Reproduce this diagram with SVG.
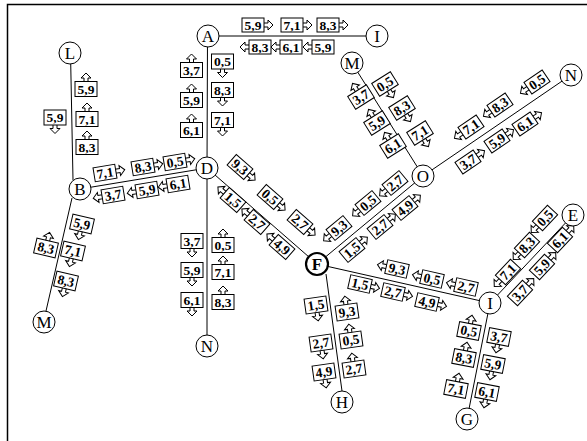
<svg xmlns="http://www.w3.org/2000/svg" xmlns:xlink="http://www.w3.org/1999/xlink" width="587" height="441" viewBox="0 0 587 441">
<style>
.cn line{stroke:#000;stroke-width:1}
.nd circle{fill:#fff;stroke:#000;stroke-width:1}
.nd text{font-family:"Liberation Serif",serif;font-size:17px;text-anchor:middle}
#F circle{stroke-width:2.2}
#F text{font-weight:bold}
.lb text{font-family:"Liberation Serif",serif;font-size:13.5px;font-weight:bold;text-anchor:middle}
</style>
<defs>
<g id="hr" fill="#fff" stroke="#000" stroke-width="1"><path d="M10.5,-2H15V-5L20,0L15,5V2H10.5Z"/><rect x="-11" y="-7" width="22" height="14"/></g>
<g id="hl" fill="#fff" stroke="#000" stroke-width="1"><path d="M-10.5,-2H-15V-5L-20,0L-15,5V2H-10.5Z"/><rect x="-11" y="-7" width="22" height="14"/></g>
<g id="vd" fill="#fff" stroke="#000" stroke-width="1"><path d="M-2,7V11H-5L0,16L5,11H2V7Z"/><rect x="-11" y="-7.5" width="22" height="15"/></g>
<g id="vu" fill="#fff" stroke="#000" stroke-width="1"><path d="M-2,-7V-11H-5L0,-16L5,-11H2V-7Z"/><rect x="-11" y="-7.5" width="22" height="15"/></g>
</defs>
<rect width="587" height="441" fill="#fff"/>
<path d="M7.5,441V4.5H587" fill="none" stroke="#000" stroke-width="1.5"/>
<g id="connectors" class="cn">
<line x1="208" y1="36" x2="377" y2="36"/>
<line x1="207.5" y1="36" x2="207" y2="168"/>
<line x1="70.5" y1="53" x2="73" y2="180"/>
<line x1="72" y1="198" x2="46" y2="311"/>
<line x1="80" y1="189" x2="207" y2="168"/>
<line x1="207" y1="168" x2="207" y2="346"/>
<line x1="207" y1="168" x2="317" y2="264"/>
<line x1="317" y1="264" x2="423" y2="176"/>
<line x1="352" y1="63" x2="423" y2="176"/>
<line x1="423" y1="176" x2="571" y2="75"/>
<line x1="317" y1="264" x2="490" y2="303"/>
<line x1="490" y1="303" x2="573" y2="215"/>
<line x1="490" y1="303" x2="467" y2="419"/>
<line x1="326" y1="274" x2="342" y2="391"/>
</g>
<g id="labels" class="lb">
<!-- A-I -->
<g transform="translate(253,25)"><use href="#hr"/><text y="4.6">5,9</text></g>
<g transform="translate(292,25)"><use href="#hr"/><text y="4.6">7,1</text></g>
<g transform="translate(328,25)"><use href="#hr"/><text y="4.6">8,3</text></g>
<g transform="translate(260,47)"><use href="#hl"/><text y="4.6">8,3</text></g>
<g transform="translate(291,47)"><use href="#hl"/><text y="4.6">6,1</text></g>
<g transform="translate(323,47)"><use href="#hl"/><text y="4.6">5,9</text></g>
<!-- A-D -->
<g transform="translate(191.5,70)"><use href="#vu"/><text y="4.6">3,7</text></g>
<g transform="translate(191.5,100)"><use href="#vu"/><text y="4.6">5,9</text></g>
<g transform="translate(191.5,130)"><use href="#vu"/><text y="4.6">6,1</text></g>
<g transform="translate(222.5,61.5)"><use href="#vd"/><text y="4.6">0,5</text></g>
<g transform="translate(222.5,90)"><use href="#vd"/><text y="4.6">8,3</text></g>
<g transform="translate(222.5,120)"><use href="#vd"/><text y="4.6">7,1</text></g>
<!-- L-B -->
<g transform="translate(86,89)"><use href="#vu"/><text y="4.6">5,9</text></g>
<g transform="translate(87,119)"><use href="#vu"/><text y="4.6">7,1</text></g>
<g transform="translate(87,147)"><use href="#vu"/><text y="4.6">8,3</text></g>
<g transform="translate(55,117.5)"><use href="#vd"/><text y="4.6">5,9</text></g>
<!-- B-D -->
<g transform="translate(105,173) rotate(-9.4)"><use href="#hr"/><text y="4.6">7,1</text></g>
<g transform="translate(143,167) rotate(-9.4)"><use href="#hr"/><text y="4.6">8,3</text></g>
<g transform="translate(175,162) rotate(-9.4)"><use href="#hr"/><text y="4.6">0,5</text></g>
<g transform="translate(113,195) rotate(-9.4)"><use href="#hl"/><text y="4.6">3,7</text></g>
<g transform="translate(147,190) rotate(-9.4)"><use href="#hl"/><text y="4.6">5,9</text></g>
<g transform="translate(178,184) rotate(-9.4)"><use href="#hl"/><text y="4.6">6,1</text></g>
<!-- B-M -->
<g transform="translate(82,224) rotate(13)"><use href="#vd"/><text y="4.6">5,9</text></g>
<g transform="translate(73,251) rotate(13)"><use href="#vd"/><text y="4.6">7,1</text></g>
<g transform="translate(66,281) rotate(13)"><use href="#vd"/><text y="4.6">8,3</text></g>
<g transform="translate(46,248) rotate(13)"><use href="#vu"/><text y="4.6">8,3</text></g>
<!-- D-N -->
<g transform="translate(192,241)"><use href="#vd"/><text y="4.6">3,7</text></g>
<g transform="translate(192,270)"><use href="#vd"/><text y="4.6">5,9</text></g>
<g transform="translate(192,300)"><use href="#vd"/><text y="4.6">6,1</text></g>
<g transform="translate(223,245)"><use href="#vu"/><text y="4.6">0,5</text></g>
<g transform="translate(223,272)"><use href="#vu"/><text y="4.6">7,1</text></g>
<g transform="translate(223,302)"><use href="#vu"/><text y="4.6">8,3</text></g>
<!-- D-F -->
<g transform="translate(240,167) rotate(41)"><use href="#hr"/><text y="4.6">9,3</text></g>
<g transform="translate(270,197) rotate(41)"><use href="#hr"/><text y="4.6">0,5</text></g>
<g transform="translate(300,222) rotate(41)"><use href="#hr"/><text y="4.6">2,7</text></g>
<g transform="translate(233,200) rotate(41)"><use href="#hl"/><text y="4.6">1,5</text></g>
<g transform="translate(257,222) rotate(41)"><use href="#hl"/><text y="4.6">2,7</text></g>
<g transform="translate(282,247) rotate(41)"><use href="#hl"/><text y="4.6">4,9</text></g>
<!-- F-O -->
<g transform="translate(339,228) rotate(-39.7)"><use href="#hl"/><text y="4.6">9,3</text></g>
<g transform="translate(368,203) rotate(-39.7)"><use href="#hl"/><text y="4.6">0,5</text></g>
<g transform="translate(395,183) rotate(-39.7)"><use href="#hl"/><text y="4.6">2,7</text></g>
<g transform="translate(352,250) rotate(-39.7)"><use href="#hr"/><text y="4.6">1,5</text></g>
<g transform="translate(380,227) rotate(-39.7)"><use href="#hr"/><text y="4.6">2,7</text></g>
<g transform="translate(405,208) rotate(-39.7)"><use href="#hr"/><text y="4.6">4,9</text></g>
<!-- O-M -->
<g transform="translate(361,97) rotate(-32)"><use href="#vu"/><text y="4.6">3,7</text></g>
<g transform="translate(377,123) rotate(-32)"><use href="#vu"/><text y="4.6">5,9</text></g>
<g transform="translate(393,146) rotate(-32)"><use href="#vu"/><text y="4.6">6,1</text></g>
<g transform="translate(385,84) rotate(-32)"><use href="#vd"/><text y="4.6">0,5</text></g>
<g transform="translate(402,108) rotate(-32)"><use href="#vd"/><text y="4.6">8,3</text></g>
<g transform="translate(420,133) rotate(-32)"><use href="#vd"/><text y="4.6">7,1</text></g>
<!-- O-N -->
<g transform="translate(471,127) rotate(-34.3)"><use href="#hl"/><text y="4.6">7,1</text></g>
<g transform="translate(500,105) rotate(-34.3)"><use href="#hl"/><text y="4.6">8,3</text></g>
<g transform="translate(537,82) rotate(-34.3)"><use href="#hl"/><text y="4.6">0,5</text></g>
<g transform="translate(468,162) rotate(-34.3)"><use href="#hr"/><text y="4.6">3,7</text></g>
<g transform="translate(497,141) rotate(-34.3)"><use href="#hr"/><text y="4.6">5,9</text></g>
<g transform="translate(525,124) rotate(-34.3)"><use href="#hr"/><text y="4.6">6,1</text></g>
<!-- F-I -->
<g transform="translate(397,269) rotate(12.7)"><use href="#hl"/><text y="4.6">9,3</text></g>
<g transform="translate(432,279) rotate(12.7)"><use href="#hl"/><text y="4.6">0,5</text></g>
<g transform="translate(466,287) rotate(12.7)"><use href="#hl"/><text y="4.6">2,7</text></g>
<g transform="translate(360,284) rotate(12.7)"><use href="#hr"/><text y="4.6">1,5</text></g>
<g transform="translate(393,292) rotate(12.7)"><use href="#hr"/><text y="4.6">2,7</text></g>
<g transform="translate(427,302) rotate(12.7)"><use href="#hr"/><text y="4.6">4,9</text></g>
<!-- I-E -->
<g transform="translate(545,218) rotate(-46.7)"><use href="#hl"/><text y="4.6">0,5</text></g>
<g transform="translate(527,245) rotate(-46.7)"><use href="#hl"/><text y="4.6">8,3</text></g>
<g transform="translate(508,272) rotate(-46.7)"><use href="#hl"/><text y="4.6">7,1</text></g>
<g transform="translate(560,240) rotate(-46.7)"><use href="#hr"/><text y="4.6">6,1</text></g>
<g transform="translate(542,267) rotate(-46.7)"><use href="#hr"/><text y="4.6">5,9</text></g>
<g transform="translate(520,293) rotate(-46.7)"><use href="#hr"/><text y="4.6">3,7</text></g>
<!-- I-G -->
<g transform="translate(469,331) rotate(11)"><use href="#vu"/><text y="4.6">0,5</text></g>
<g transform="translate(464,358) rotate(11)"><use href="#vu"/><text y="4.6">8,3</text></g>
<g transform="translate(456,389) rotate(11)"><use href="#vu"/><text y="4.6">7,1</text></g>
<g transform="translate(499,337) rotate(11)"><use href="#vd"/><text y="4.6">3,7</text></g>
<g transform="translate(493,364) rotate(11)"><use href="#vd"/><text y="4.6">5,9</text></g>
<g transform="translate(487,392) rotate(11)"><use href="#vd"/><text y="4.6">6,1</text></g>
<!-- F-H -->
<g transform="translate(316,305) rotate(-8)"><use href="#vd"/><text y="4.6">1,5</text></g>
<g transform="translate(321,343) rotate(-8)"><use href="#vd"/><text y="4.6">2,7</text></g>
<g transform="translate(324,372) rotate(-8)"><use href="#vd"/><text y="4.6">4,9</text></g>
<g transform="translate(347,312) rotate(-8)"><use href="#vu"/><text y="4.6">9,3</text></g>
<g transform="translate(351,340) rotate(-8)"><use href="#vu"/><text y="4.6">0,5</text></g>
<g transform="translate(354,369) rotate(-8)"><use href="#vu"/><text y="4.6">2,7</text></g>
</g>
<g id="A" class="nd"><circle cx="208" cy="36" r="11"/><text x="208" y="41.8">A</text></g>
<g id="I1" class="nd"><circle cx="377" cy="36" r="11"/><text x="377" y="41.8">I</text></g>
<g id="L" class="nd"><circle cx="70" cy="53" r="11"/><text x="70" y="58.8">L</text></g>
<g id="M1" class="nd"><circle cx="352" cy="63" r="11"/><text x="352" y="68.8">M</text></g>
<g id="N1" class="nd"><circle cx="571" cy="75" r="11"/><text x="571" y="80.8">N</text></g>
<g id="B" class="nd"><circle cx="80" cy="189" r="11"/><text x="80" y="194.8">B</text></g>
<g id="D" class="nd"><circle cx="207" cy="168" r="11"/><text x="207" y="173.8">D</text></g>
<g id="O" class="nd"><circle cx="423" cy="176" r="11"/><text x="423" y="181.8">O</text></g>
<g id="E" class="nd"><circle cx="573" cy="215" r="11"/><text x="573" y="220.8">E</text></g>
<g id="F" class="nd"><circle cx="317" cy="264" r="11"/><text x="317" y="269.8">F</text></g>
<g id="I2" class="nd"><circle cx="490" cy="303" r="11"/><text x="490" y="308.8">I</text></g>
<g id="M2" class="nd"><circle cx="44" cy="322" r="11"/><text x="44" y="327.8">M</text></g>
<g id="N2" class="nd"><circle cx="207" cy="346" r="11"/><text x="207" y="351.8">N</text></g>
<g id="H" class="nd"><circle cx="342" cy="402" r="11"/><text x="342" y="407.8">H</text></g>
<g id="G" class="nd"><circle cx="467" cy="419" r="11"/><text x="467" y="424.8">G</text></g>
</svg>
